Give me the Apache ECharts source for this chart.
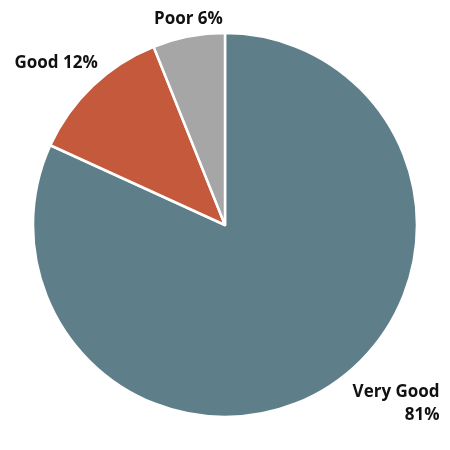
<!DOCTYPE html>
<html><head><meta charset="utf-8">
<script src="https://cdn.jsdelivr.net/npm/echarts@6/dist/echarts.min.js"></script>
<style>html,body{margin:0;padding:0;background:#fff}#c{width:450px;height:450px}</style>
</head><body><div id="c"></div>
<script>
const categories = ["Very Good", "Good", "Poor"];
const values = [81, 12, 6];
const colors = ["#5e7f8a", "#c45a3b", "#a6a6a6"];
const labelShift = [[0, 0], [24, -8], [43, 2]];

const FONT = 'Open Sans';
const chart = echarts.init(document.getElementById('c'));
chart.setOption({
  animation: false,
  series: [{
    type: 'pie',
    center: ['50%', '50%'],
    radius: 192,
    startAngle: 90,
    clockwise: true,
    data: categories.map((c, i) => ({
      name: c, value: values[i],
      itemStyle: { color: colors[i] },
      label: i === 0 ? { formatter: '{a|{b}}\n{a|{c}%}' } : {}
    })),
    itemStyle: { borderColor: '#fff', borderWidth: 2.5 },
    label: {
      show: true,
      position: 'outside',
      formatter: '{b} {c}%',
      overflow: 'none',
      color: '#111',
      fontFamily: FONT,
      fontWeight: 'bold',
      fontSize: 17,
      lineHeight: 23,
      rich: { a: { fontFamily: FONT, fontWeight: 'bold', fontSize: 17, color: '#111', align: 'right', width: 95, lineHeight: 23 } }
    },
    labelLine: { show: false, length: 20, length2: 0 },
    labelLayout: (p) => ({ dx: labelShift[p.dataIndex][0], dy: labelShift[p.dataIndex][1] })
  }]
});
</script></body></html>
